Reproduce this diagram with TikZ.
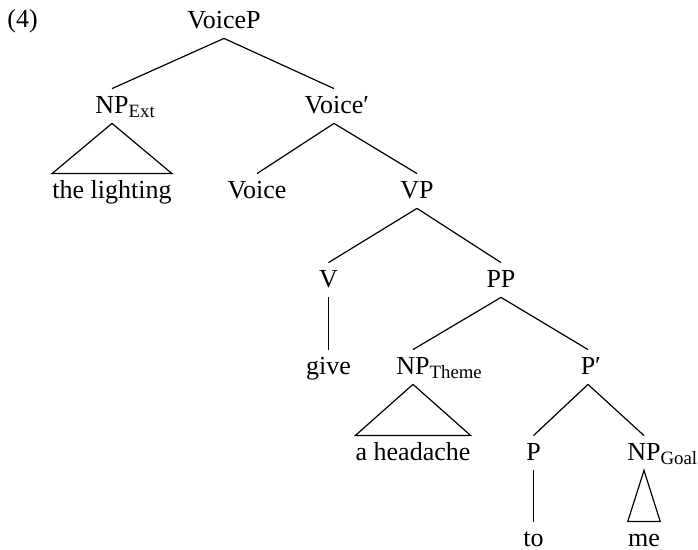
\documentclass[tikz,border=0pt]{standalone}
\usepackage{fontspec}
\setmainfont{Liberation Serif}

%% subscripted labels and bar levels hang to the right of the category
\newcommand{\subcat}[1]{\rlap{\raisebox{-2pt}{\fontsize{9.4}{10}\selectfont #1}}}
\newcommand{\bprime}{\rlap{′}}

\tikzset{
	cat/.style={anchor=base, inner sep=0pt, text height=12.5pt, text depth=4.5pt,
		font=\fontsize{13}{15}\selectfont},
	branch/.style={line width=0.6pt}
}

\begin{document}
\begin{tikzpicture}[x=0.5pt, y=-0.5pt]
	\useasboundingbox (0,0) rectangle (698,550);

	%% Example number
	\node [cat, anchor=base west] (exno) at (7,28) {(4)};

	%% Categories, top to bottom
	\node [cat] (voicep) at (224,29) {VoiceP};
	\node [cat] (npext) at (112,114) {NP\subcat{Ext}};
	\node [cat] (voicebar) at (334,114) {Voice\bprime};
	\node [cat] (lighting) at (112,199) {the lighting};
	\node [cat] (voice) at (257,199) {Voice};
	\node [cat] (vp) at (417,199) {VP};
	\node [cat] (v) at (328.5,288) {V};
	\node [cat] (pp) at (501,288) {PP};
	\node [cat] (give) at (328.5,375) {give};
	\node [cat] (nptheme) at (413,375) {NP\subcat{Theme}};
	\node [cat] (pbar) at (588,375) {P\bprime};
	\node [cat] (headache) at (413,461) {a headache};
	\node [cat] (p) at (533.5,461) {P};
	\node [cat] (npgoal) at (644,461) {NP\subcat{Goal}};
	\node [cat] (to) at (533.5,547) {to};
	\node [cat] (me) at (644,547) {me};

	%% Branches
	\draw [branch] (voicep.south) -- (npext.north);
	\draw [branch] (voicep.south) -- (voicebar.north);
	\draw [branch] (voicebar.south) -- (voice.north);
	\draw [branch] (voicebar.south) -- (vp.north);
	\draw [branch] (vp.south) -- (v.north);
	\draw [branch] (vp.south) -- (pp.north);
	\draw [branch] (v.south) -- (give.north);
	\draw [branch] (pp.south) -- (nptheme.north);
	\draw [branch] (pp.south) -- (pbar.north);
	\draw [branch] (pbar.south) -- (p.north);
	\draw [branch] (pbar.south) -- (npgoal.north);
	\draw [branch] (p.south) -- (to.north);

	%% Triangles over unanalysed phrases
	\draw [branch] (npext.south) -- (lighting.north west) -- (lighting.north east) -- cycle;
	\draw [branch] (nptheme.south) -- (headache.north west) -- (headache.north east) -- cycle;
	\draw [branch] (npgoal.south) -- (me.north west) -- (me.north east) -- cycle;
\end{tikzpicture}
\end{document}
